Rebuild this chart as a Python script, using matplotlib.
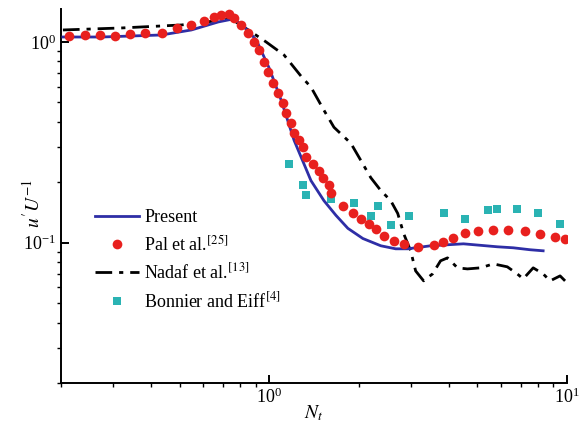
import numpy as np
import matplotlib
matplotlib.use("Agg")
import matplotlib.pyplot as plt
from matplotlib.ticker import LogLocator, NullFormatter

plt.rcParams['font.family'] = ['Liberation Serif', 'DejaVu Serif']
plt.rcParams['mathtext.fontset'] = 'stix'

# Present simulation (solid line)
present_N = [0.203, 0.274, 0.435, 0.548, 0.675, 0.758, 0.819, 0.905, 1.0, 1.097, 1.212,
             1.381, 1.527, 1.675, 1.837, 2.063, 2.37, 2.659, 2.92, 3.482, 4.489, 5.833,
             6.598, 7.519, 8.312]
present_u = [1.059, 1.059, 1.084, 1.148, 1.259, 1.303, 1.202, 1.023, 0.741, 0.513, 0.324,
             0.204, 0.162, 0.137, 0.118, 0.105, 0.0966, 0.0933, 0.0933, 0.0966, 0.0988,
             0.0955, 0.0944, 0.0923, 0.0912]

# Pal et al. [25]
pal_N = [0.213, 0.241, 0.270, 0.303, 0.340, 0.382, 0.435, 0.489, 0.548, 0.602, 0.655,
         0.691, 0.735, 0.764, 0.806, 0.851, 0.891, 0.926, 0.962, 0.992, 1.031, 1.072,
         1.114, 1.140, 1.185, 1.212, 1.260, 1.299, 1.329, 1.403, 1.470, 1.516, 1.587,
         1.612, 1.768, 1.910, 2.031, 2.160, 2.280, 2.424, 2.619, 2.828, 3.150, 3.563,
         3.819, 4.125, 4.559, 5.039, 5.655, 6.349, 7.236, 8.123, 9.119, 9.847]
pal_u = [1.072, 1.084, 1.084, 1.072, 1.096, 1.109, 1.109, 1.175, 1.216, 1.274, 1.334,
         1.365, 1.380, 1.318, 1.216, 1.109, 1.0, 0.912, 0.794, 0.708, 0.624, 0.556,
         0.495, 0.442, 0.394, 0.351, 0.324, 0.299, 0.266, 0.248, 0.229, 0.211, 0.195,
         0.176, 0.153, 0.141, 0.132, 0.124, 0.117, 0.108, 0.102, 0.0989, 0.0955, 0.0977,
         0.101, 0.106, 0.112, 0.115, 0.116, 0.116, 0.114, 0.111, 0.107, 0.104]

# Nadaf et al. [13]
nadaf_N = [0.203, 0.320, 0.508, 0.746, 0.851, 0.977, 1.122, 1.279, 1.381, 1.527, 1.650,
           1.880, 2.031, 2.193, 2.37, 2.559, 2.701, 2.828, 2.985, 3.102, 3.299, 3.536,
           3.761, 3.969, 4.287, 4.629, 5.117, 5.655, 6.300, 6.804, 7.126, 7.697, 8.312,
           8.772, 9.476, 9.847]
nadaf_u = [1.148, 1.175, 1.216, 1.303, 1.148, 1.0, 0.861, 0.676, 0.596, 0.457, 0.376,
           0.313, 0.257, 0.211, 0.182, 0.162, 0.140, 0.111, 0.0912, 0.0724, 0.0646, 0.070,
           0.0813, 0.0841, 0.075, 0.0741, 0.075, 0.0785, 0.0759, 0.070, 0.0661, 0.075,
           0.070, 0.0646, 0.0684, 0.0646]

# Bonnier and Eiff [4]
bonnier_N = [1.166, 1.299, 1.329, 1.612, 1.924, 2.193, 2.315, 2.559, 2.939, 3.848, 4.559,
             5.442, 5.833, 6.804, 7.998, 9.476]
bonnier_u = [0.248, 0.193, 0.172, 0.166, 0.158, 0.136, 0.153, 0.122, 0.136, 0.140, 0.132,
             0.145, 0.148, 0.148, 0.140, 0.124]

fig = plt.figure(figsize=(5.81, 4.29), dpi=100)
ax = fig.add_axes([0.105, 0.107, 0.871, 0.872])

ax.plot(present_N, present_u, '-', color='#2e2ea6', linewidth=2, label='Present', zorder=3)
ax.plot(pal_N, pal_u, 'o', color='#e8201e', markersize=7, markeredgewidth=0,
        label='Pal et al.$^{[25]}$', zorder=4)
ax.plot(nadaf_N, nadaf_u, linestyle=(0, (6, 2.5, 1.5, 2.5)), color='black', linewidth=2,
        label='Nadaf et al.$^{[13]}$', zorder=2)
ax.plot(bonnier_N, bonnier_u, 's', color='#2ab3b3', markersize=6, markeredgewidth=0,
        label='Bonnier and Eiff$^{[4]}$', zorder=1)

ax.set_xscale('log')
ax.set_yscale('log')
ax.set_xlim(0.2, 10)
ax.set_ylim(0.02, 1.46)

ax.spines['top'].set_visible(False)
ax.spines['right'].set_visible(False)
for s in ['left', 'bottom']:
    ax.spines[s].set_linewidth(1.4)

ax.xaxis.set_major_locator(LogLocator(base=10, numticks=5))
ax.yaxis.set_major_locator(LogLocator(base=10, numticks=5))
ax.xaxis.set_minor_locator(LogLocator(base=10, subs=np.arange(2, 10), numticks=10))
ax.yaxis.set_minor_locator(LogLocator(base=10, subs=np.arange(2, 10), numticks=10))
ax.xaxis.set_minor_formatter(NullFormatter())
ax.yaxis.set_minor_formatter(NullFormatter())
ax.tick_params(which='major', direction='in', length=6, width=1.4, labelsize=13)
ax.tick_params(which='minor', direction='out', length=3, width=1.0)

ax.set_xlabel('$N_t$', fontsize=14, labelpad=-3)
ax.set_ylabel("$u'U^{-1}$", fontsize=14)
ax.yaxis.set_label_coords(-0.035, 0.48)

ax.legend(loc='upper left', bbox_to_anchor=(0.05, 0.49), frameon=False, fontsize=13,
          handlelength=2.4, labelspacing=0.47, handletextpad=0.3, borderpad=0)

fig.savefig('out.png', dpi=100, facecolor='white')
